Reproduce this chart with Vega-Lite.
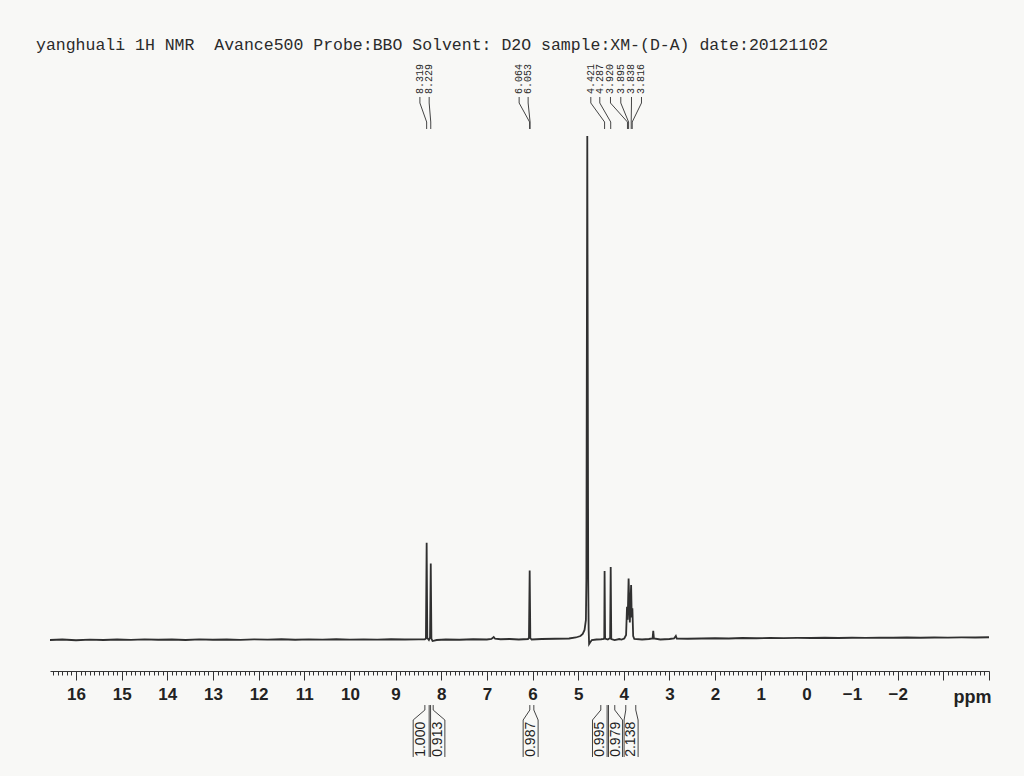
{
  "$schema": "https://vega.github.io/schema/vega-lite/v6.json",
  "width": 939,
  "height": 710,
  "autosize": {"type": "none"},
  "padding": {"left": 50, "top": 60, "right": 35, "bottom": 6},
  "background": "#f8f8f6",
  "config": {"view": {"stroke": null}},
  "title": {
    "text": "yanghuali 1H NMR \u00a0Avance500 Probe:BBO Solvent: D2O sample:XM-(D-A) date:20121102",
    "anchor": "start", "frame": "group", "dx": -14, "offset": -6,
    "font": "Liberation Mono", "fontSize": 16.5, "fontWeight": "normal",
    "color": "#2a2a2a", "baseline": "alphabetic"
  },
  "datasets": {
    "spectrum": [
      {"ppm": 16.57, "i": 0.0}, {"ppm": 16.3, "i": 0.1}, {"ppm": 16.0, "i": -0.05}, {"ppm": 15.7, "i": 0.08},
      {"ppm": 15.4, "i": 0.0}, {"ppm": 15.1, "i": 0.1}, {"ppm": 14.8, "i": 0.02}, {"ppm": 14.5, "i": 0.12},
      {"ppm": 14.2, "i": 0.05}, {"ppm": 13.9, "i": 0.1}, {"ppm": 13.6, "i": 0.0}, {"ppm": 13.3, "i": 0.12},
      {"ppm": 13.0, "i": 0.05}, {"ppm": 12.7, "i": 0.1}, {"ppm": 12.4, "i": 0.03}, {"ppm": 12.1, "i": 0.12},
      {"ppm": 11.8, "i": 0.08}, {"ppm": 11.5, "i": 0.15}, {"ppm": 11.2, "i": 0.05}, {"ppm": 10.9, "i": 0.12},
      {"ppm": 10.6, "i": 0.06}, {"ppm": 10.3, "i": 0.15}, {"ppm": 10.0, "i": 0.08}, {"ppm": 9.7, "i": 0.14},
      {"ppm": 9.4, "i": 0.06}, {"ppm": 9.1, "i": 0.15}, {"ppm": 8.8, "i": 0.1}, {"ppm": 8.5, "i": 0.12},
      {"ppm": 8.36, "i": 0.15}, {"ppm": 8.335, "i": 0.3}, {"ppm": 8.319, "i": 19.3}, {"ppm": 8.305, "i": 0.4},
      {"ppm": 8.27, "i": 0.0}, {"ppm": 8.245, "i": 0.5}, {"ppm": 8.229, "i": 15.2}, {"ppm": 8.215, "i": 0.3},
      {"ppm": 8.19, "i": -0.2}, {"ppm": 8.1, "i": 0.0}, {"ppm": 7.9, "i": 0.1}, {"ppm": 7.6, "i": 0.05},
      {"ppm": 7.3, "i": 0.15}, {"ppm": 7.0, "i": 0.1}, {"ppm": 6.9, "i": 0.2}, {"ppm": 6.85, "i": 0.6},
      {"ppm": 6.82, "i": 0.25}, {"ppm": 6.7, "i": 0.15}, {"ppm": 6.5, "i": 0.2}, {"ppm": 6.3, "i": 0.1},
      {"ppm": 6.1, "i": 0.2}, {"ppm": 6.078, "i": 0.4}, {"ppm": 6.062, "i": 13.8}, {"ppm": 6.048, "i": 0.4},
      {"ppm": 6.02, "i": 0.1}, {"ppm": 5.8, "i": 0.2}, {"ppm": 5.5, "i": 0.25}, {"ppm": 5.2, "i": 0.3},
      {"ppm": 5.05, "i": 0.5}, {"ppm": 4.95, "i": 0.8}, {"ppm": 4.9, "i": 1.2}, {"ppm": 4.86, "i": 2.0},
      {"ppm": 4.83, "i": 4.0}, {"ppm": 4.82, "i": 12.0}, {"ppm": 4.8, "i": 100.0}, {"ppm": 4.78, "i": 12.0},
      {"ppm": 4.77, "i": 2.0}, {"ppm": 4.76, "i": -0.8}, {"ppm": 4.74, "i": -0.5}, {"ppm": 4.7, "i": 0.0},
      {"ppm": 4.6, "i": 0.1}, {"ppm": 4.5, "i": 0.15}, {"ppm": 4.44, "i": 0.2}, {"ppm": 4.428, "i": 0.5},
      {"ppm": 4.421, "i": 13.7}, {"ppm": 4.41, "i": 0.3}, {"ppm": 4.35, "i": 0.1}, {"ppm": 4.3, "i": 0.4},
      {"ppm": 4.287, "i": 14.5}, {"ppm": 4.275, "i": 0.2}, {"ppm": 4.2, "i": 0.0}, {"ppm": 4.1, "i": 0.2},
      {"ppm": 4.05, "i": 0.1}, {"ppm": 3.99, "i": 0.3}, {"ppm": 3.95, "i": 1.0}, {"ppm": 3.93, "i": 6.6},
      {"ppm": 3.915, "i": 4.0}, {"ppm": 3.895, "i": 12.2}, {"ppm": 3.868, "i": 3.5}, {"ppm": 3.84, "i": 10.9},
      {"ppm": 3.826, "i": 4.5}, {"ppm": 3.812, "i": 6.3}, {"ppm": 3.795, "i": 0.8}, {"ppm": 3.77, "i": 0.2},
      {"ppm": 3.6, "i": 0.1}, {"ppm": 3.45, "i": 0.2}, {"ppm": 3.37, "i": 0.3}, {"ppm": 3.355, "i": 1.8},
      {"ppm": 3.34, "i": 0.3}, {"ppm": 3.2, "i": 0.1}, {"ppm": 3.0, "i": 0.2}, {"ppm": 2.9, "i": 0.3},
      {"ppm": 2.86, "i": 0.8}, {"ppm": 2.84, "i": 0.3}, {"ppm": 2.6, "i": 0.25}, {"ppm": 2.3, "i": 0.3},
      {"ppm": 2.0, "i": 0.35}, {"ppm": 1.7, "i": 0.3}, {"ppm": 1.4, "i": 0.4}, {"ppm": 1.1, "i": 0.35},
      {"ppm": 0.8, "i": 0.4}, {"ppm": 0.5, "i": 0.38}, {"ppm": 0.2, "i": 0.42}, {"ppm": -0.1, "i": 0.4},
      {"ppm": -0.4, "i": 0.45}, {"ppm": -0.7, "i": 0.4}, {"ppm": -1.0, "i": 0.45}, {"ppm": -1.3, "i": 0.42},
      {"ppm": -1.6, "i": 0.48}, {"ppm": -1.9, "i": 0.45}, {"ppm": -2.2, "i": 0.5}, {"ppm": -2.5, "i": 0.45},
      {"ppm": -2.8, "i": 0.5}, {"ppm": -3.1, "i": 0.48}, {"ppm": -3.4, "i": 0.52}, {"ppm": -3.7, "i": 0.5},
      {"ppm": -4.0, "i": 0.55}
    ],
    "peaks": [
      {"label": "8.319", "lx": 8.467, "peak": 8.319},
      {"label": "8.229", "lx": 8.264, "peak": 8.229},
      {"label": "6.064", "lx": 6.293, "peak": 6.064},
      {"label": "6.053", "lx": 6.096, "peak": 6.053},
      {"label": "4.421", "lx": 4.723, "peak": 4.421},
      {"label": "4.287", "lx": 4.526, "peak": 4.287},
      {"label": "3.920", "lx": 4.292, "peak": 3.920},
      {"label": "3.895", "lx": 4.066, "peak": 3.895},
      {"label": "3.838", "lx": 3.832, "peak": 3.838},
      {"label": "3.816", "lx": 3.613, "peak": 3.816}
    ],
    "integrals": [
      {"label": "1.000", "t": 8.434, "lt": 8.358, "lb": 8.614, "rt": 8.264, "rb": 8.264},
      {"label": "0.913", "t": 8.073, "lt": 8.233, "lb": 8.233, "rt": 8.176, "rb": 7.920},
      {"label": "0.987", "t": 6.037, "lt": 6.059, "lb": 6.205, "rt": 5.971, "rb": 5.877},
      {"label": "0.995", "t": 4.526, "lt": 4.504, "lb": 4.686, "rt": 4.366, "rb": 4.366},
      {"label": "0.979", "t": 4.176, "lt": 4.335, "lb": 4.335, "rt": 4.198, "rb": 4.029},
      {"label": "2.138", "t": 3.836, "lt": 3.957, "lb": 3.994, "rt": 3.738, "rb": 3.687}
    ]
  },
  "encoding": {
    "x": {"type": "quantitative", "scale": {"domain": [16.57, -4.0], "nice": false, "zero": false}},
    "y": {"type": "quantitative", "scale": {"domain": [-25.79, 115.08], "nice": false, "zero": false}, "axis": null}
  },
  "layer": [
    {
      "data": {"name": "spectrum"},
      "mark": {"type": "line", "color": "#303030", "strokeWidth": 1.8, "interpolate": "linear"},
      "encoding": {
        "x": {"field": "ppm", "type": "quantitative", "scale": {"domain": [16.57, -4.0], "nice": false, "zero": false},
          "axis": {
            "orient": "bottom", "offset": -99, "grid": false,
            "domain": true, "domainColor": "#333333", "domainWidth": 1,
            "tickCount": 200, "tickColor": "#333333", "tickWidth": 1,
            "tickSize": {"condition": {"test": "abs(datum.value - round(datum.value)) < 0.001", "value": 9}, "value": 4},
            "labelExpr": "abs(datum.value - round(datum.value)) < 0.001 && datum.value > -2.5 ? format(datum.value, 'd') : ''",
            "labelOverlap": false, "labelFlush": false, "labelPadding": 6,
            "labelFont": "Liberation Sans", "labelFontSize": 17, "labelFontWeight": "bold", "labelColor": "#222222",
            "title": "ppm", "titleFont": "Liberation Sans", "titleFontSize": 18, "titleFontWeight": "bold", "titleColor": "#222222",
            "titleX": 941, "titleY": 31, "titleAlign": "right", "titleBaseline": "alphabetic", "titleAngle": 0
          }},
        "y": {"field": "i", "type": "quantitative"}
      }
    },
    {
      "data": {"name": "peaks"},
      "mark": {"type": "text", "font": "Liberation Mono", "fontSize": 10, "angle": 270, "align": "left", "baseline": "middle", "color": "#2a2a2a"},
      "encoding": {"x": {"field": "lx", "type": "quantitative"}, "y": {"datum": 108.33}, "text": {"field": "label"}}
    },
    {
      "data": {"name": "peaks"},
      "mark": {"type": "rule", "color": "#444444", "strokeWidth": 1},
      "encoding": {"x": {"field": "lx", "type": "quantitative"}, "y": {"datum": 107.74}, "y2": {"datum": 106.55}}
    },
    {
      "data": {"name": "peaks"},
      "mark": {"type": "rule", "color": "#444444", "strokeWidth": 1},
      "encoding": {"x": {"field": "lx", "type": "quantitative"}, "x2": {"field": "peak"}, "y": {"datum": 106.55}, "y2": {"datum": 102.78}}
    },
    {
      "data": {"name": "peaks"},
      "mark": {"type": "rule", "color": "#444444", "strokeWidth": 1},
      "encoding": {"x": {"field": "peak", "type": "quantitative"}, "y": {"datum": 102.78}, "y2": {"datum": 101.39}}
    },
    {
      "data": {"name": "integrals"},
      "mark": {"type": "text", "font": "Liberation Sans", "fontSize": 14, "angle": 270, "align": "center", "baseline": "middle", "color": "#1e1e1e"},
      "encoding": {"x": {"field": "t", "type": "quantitative"}, "y": {"datum": -19.7}, "text": {"field": "label"}}
    },
    {
      "data": {"name": "integrals"},
      "mark": {"type": "rule", "color": "#444444", "strokeWidth": 1},
      "encoding": {"x": {"field": "lt", "type": "quantitative"}, "y": {"datum": -12.9}, "y2": {"datum": -13.89}}
    },
    {
      "data": {"name": "integrals"},
      "mark": {"type": "rule", "color": "#444444", "strokeWidth": 1},
      "encoding": {"x": {"field": "lt", "type": "quantitative"}, "x2": {"field": "lb"}, "y": {"datum": -13.89}, "y2": {"datum": -15.87}}
    },
    {
      "data": {"name": "integrals"},
      "mark": {"type": "rule", "color": "#444444", "strokeWidth": 1},
      "encoding": {"x": {"field": "lb", "type": "quantitative"}, "y": {"datum": -15.87}, "y2": {"datum": -23.21}}
    },
    {
      "data": {"name": "integrals"},
      "mark": {"type": "rule", "color": "#444444", "strokeWidth": 1},
      "encoding": {"x": {"field": "rt", "type": "quantitative"}, "y": {"datum": -12.9}, "y2": {"datum": -13.89}}
    },
    {
      "data": {"name": "integrals"},
      "mark": {"type": "rule", "color": "#444444", "strokeWidth": 1},
      "encoding": {"x": {"field": "rt", "type": "quantitative"}, "x2": {"field": "rb"}, "y": {"datum": -13.89}, "y2": {"datum": -15.87}}
    },
    {
      "data": {"name": "integrals"},
      "mark": {"type": "rule", "color": "#444444", "strokeWidth": 1},
      "encoding": {"x": {"field": "rb", "type": "quantitative"}, "y": {"datum": -15.87}, "y2": {"datum": -23.21}}
    }
  ]
}
